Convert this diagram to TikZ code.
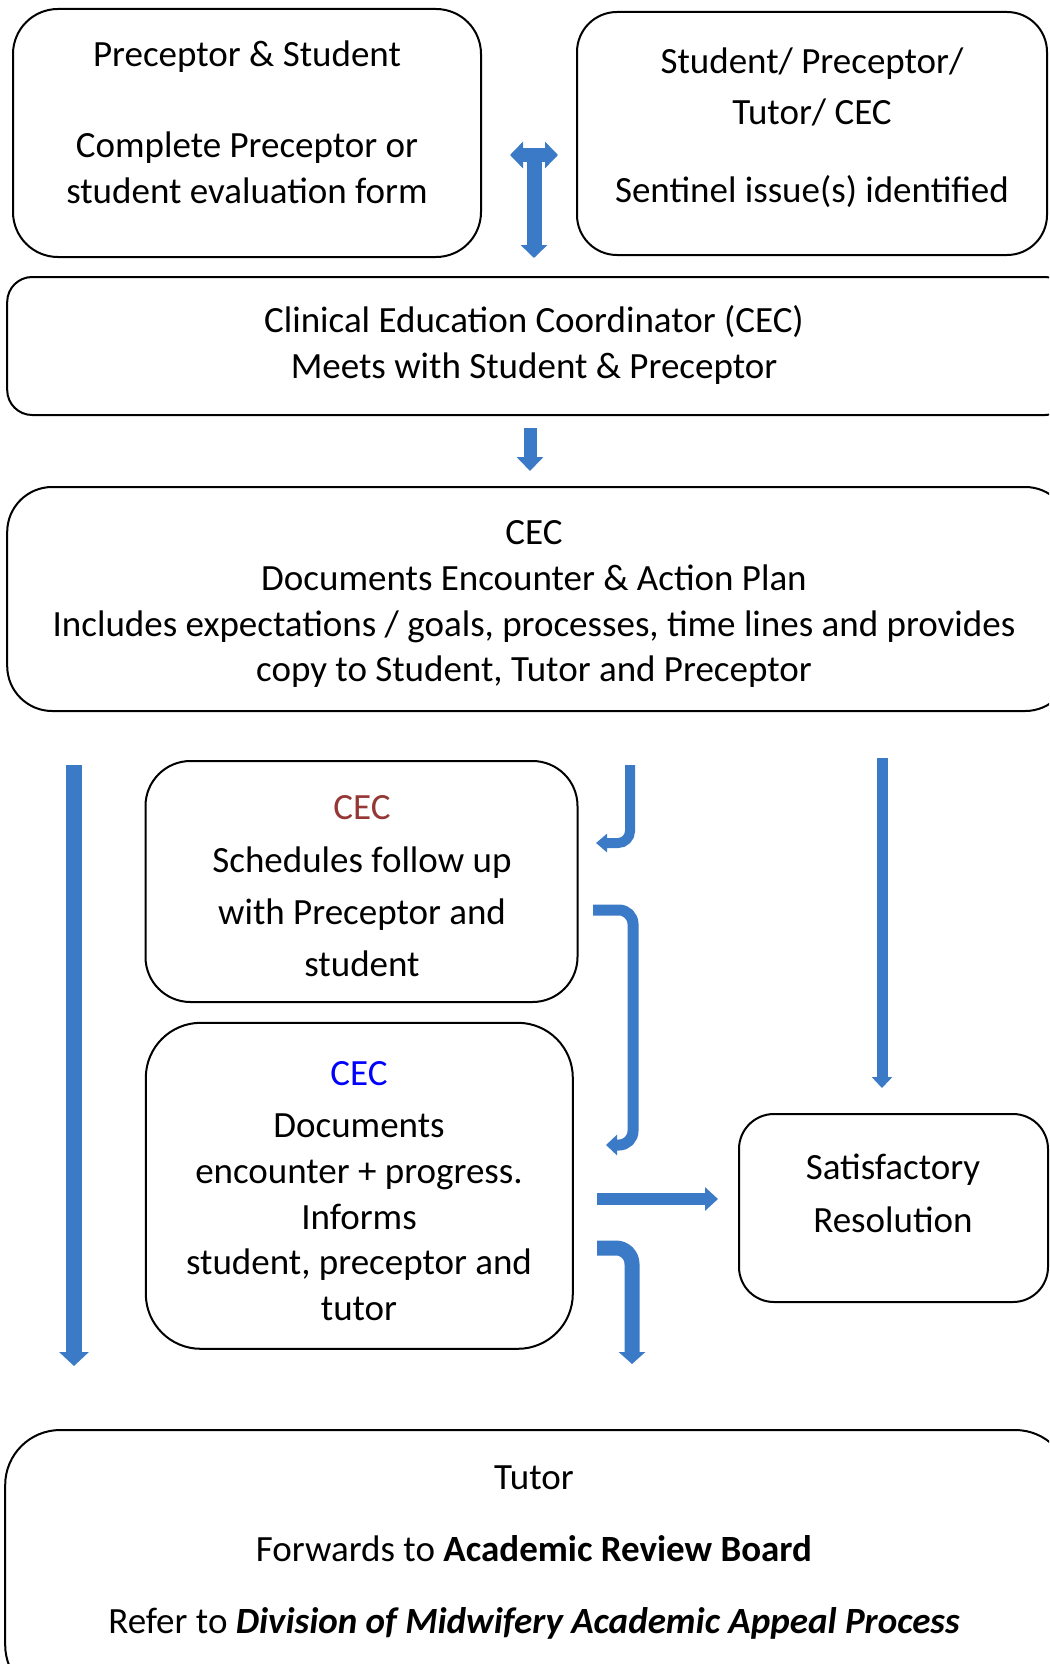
\documentclass[tikz,border=0pt]{standalone}
\usepackage{fontspec}
\setmainfont{Carlito}
\usetikzlibrary{arrows.meta}
\definecolor{arrowblue}{RGB}{59,122,198}
\definecolor{cecred}{RGB}{149,55,53}
\definecolor{cecblue}{RGB}{0,0,255}
\begin{document}
\begin{tikzpicture}[x=1pt,y=-1pt,
  box/.style={draw=black, line width=2pt, rounded corners=#1, inner sep=0pt},
  box/.default=45pt,
  txt/.style={anchor=base, inner sep=0pt, font=\fontsize{37}{45.5}\selectfont},
  barrow/.style={draw=arrowblue, line width=#1},
  barrow/.default=12pt]
\useasboundingbox (0,0) rectangle (1049,1664);
\clip (0,0) rectangle (1049,1664);
\fill[white] (0,0) rectangle (1049,1664);

% boxes
\node[box=45pt, minimum width=468pt, minimum height=248pt] (b1) at (247,133) {};
\node[box=40pt, minimum width=470pt, minimum height=243pt] (b2) at (812,133.5) {};
\node[box=25pt, minimum width=1063pt, minimum height=138pt] (b3) at (538.7,346) {};
\node[box=45pt, minimum width=1063pt, minimum height=224pt] (b4) at (538.7,599) {};
\node[box=45pt, minimum width=432pt, minimum height=241pt] (b5) at (361.5,881.5) {};
\node[box=55pt, minimum width=427pt, minimum height=326pt] (b6) at (359.3,1185.8) {};
\node[box=35pt, minimum width=309pt, minimum height=188pt] (b7) at (893.5,1208) {};
\node[box=55pt, minimum width=1065pt, minimum height=270pt] (b8) at (537.7,1565) {};

% texts
\node[txt] (t1a) at (247,67) {Preceptor \& Student};
\node[txt] (t1b) at (247,158) {Complete Preceptor or};
\node[txt] (t1c) at (247,204) {student evaluation form};

\node[txt] (t2a) at (812,74) {Student/ Preceptor/};
\node[txt] (t2b) at (812,125) {Tutor/ CEC};
\node[txt] (t2c) at (812,202) {Sentinel issue(s) identified};

\node[txt] (t3a) at (534,332) {Clinical Education Coordinator (CEC)};
\node[txt] (t3b) at (534,378) {Meets with Student \& Preceptor};

\node[txt] (t4a) at (534,544) {CEC};
\node[txt] (t4b) at (534,590) {Documents Encounter \& Action Plan};
\node[txt] (t4c) at (534,636) {Includes expectations / goals, processes, time lines and provides};
\node[txt] (t4d) at (534,681) {copy to Student, Tutor and Preceptor};

\node[txt, text=cecred] (t5a) at (362,819) {CEC};
\node[txt] (t5b) at (362,872) {Schedules follow up};
\node[txt] (t5c) at (362,924) {with Preceptor and};
\node[txt] (t5d) at (362,976) {student};

\node[txt, text=cecblue] (t6a) at (359,1085) {CEC};
\node[txt] (t6b) at (359,1137) {Documents};
\node[txt] (t6c) at (359,1183) {encounter + progress.};
\node[txt] (t6d) at (359,1229) {Informs};
\node[txt] (t6e) at (359,1274) {student, preceptor and};
\node[txt] (t6f) at (359,1320) {tutor};

\node[txt] (t7a) at (893,1179) {Satisfactory};
\node[txt] (t7b) at (893,1232) {Resolution};

\node[txt] (t8a) at (534,1489) {Tutor};
\node[txt] (t8b) at (534,1561) {Forwards to \textbf{Academic Review Board}};
\node[txt] (t8c) at (534,1633) {Refer to \textbf{\textit{Division of Midwifery Academic Appeal Process}}};

% arrow coordinates
\coordinate (a1l) at (510,155);
\coordinate (a1r) at (558,155);
\coordinate (a1t) at (534,155);
\coordinate (a1b) at (534,258);
\coordinate (a2t) at (530,428);
\coordinate (a2b) at (530,471);
\coordinate (a3t) at (74,765);
\coordinate (a3b) at (74,1366);
\coordinate (a4t) at (882,758);
\coordinate (a4b) at (882,1088);
\coordinate (a5t) at (630,765);
\coordinate (a5b) at (596,843);
\coordinate (a6s) at (593,910);
\coordinate (a6c) at (633,910);
\coordinate (a6b) at (606,1145);
\coordinate (a7l) at (597,1199);
\coordinate (a7r) at (718,1199);
\coordinate (a8s) at (597,1248);
\coordinate (a8b) at (632,1364);

% arrows
\draw[barrow=14pt, {Triangle[width=26pt,length=13pt]}-{Triangle[width=26pt,length=13pt]}] (a1l) -- (a1r);
\draw[barrow=15pt, -{Triangle[width=26pt,length=13pt]}] (a1t) -- (a1b);
\draw[barrow=13pt, -{Triangle[width=26pt,length=14pt]}] (a2t) -- (a2b);
\draw[barrow=16pt, -{Triangle[width=29pt,length=14pt]}] (a3t) -- (a3b);
\draw[barrow=11pt, -{Triangle[width=20pt,length=11pt]}] (a4t) -- (a4b);
\draw[barrow=10pt, rounded corners=12pt, -{Triangle[width=18pt,length=11pt]}] (a5t) |- (a5b);
\draw[barrow=11pt, rounded corners=14pt, -{Triangle[width=20pt,length=11pt]}] (a6s) -- (a6c) |- (a6b);
\draw[barrow=12pt, -{Triangle[width=23pt,length=13pt]}] (a7l) -- (a7r);
\draw[barrow=15pt, rounded corners=16pt, -{Triangle[width=26pt,length=12pt]}] (a8s) -| (a8b);
\end{tikzpicture}
\end{document}
